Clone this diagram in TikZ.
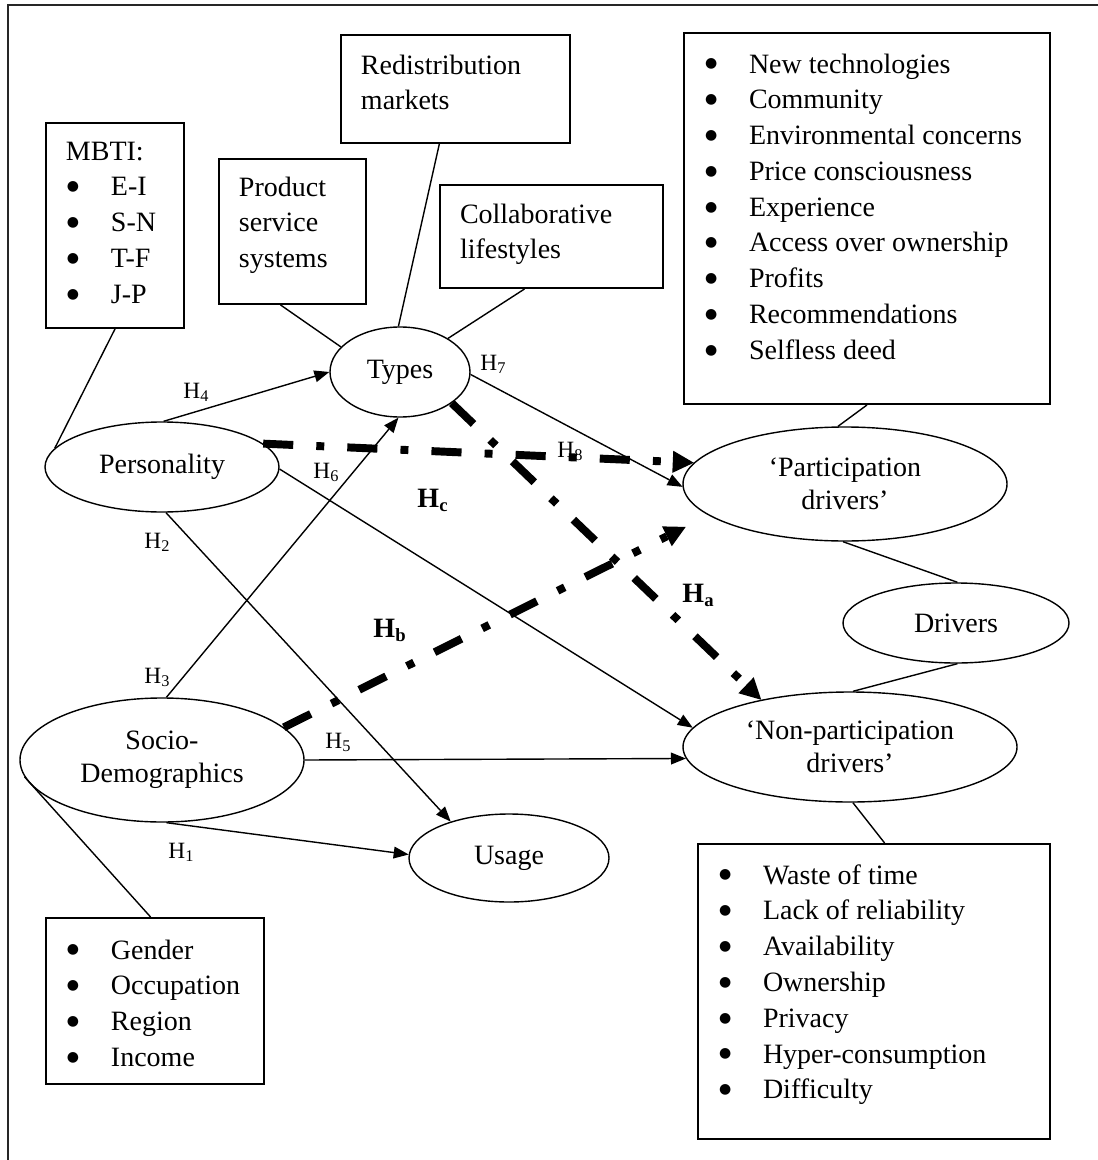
\documentclass[tikz,border=0pt]{standalone}
\usepackage{fontspec}
\setmainfont{Liberation Serif}
\newfontfamily\dotfont{DejaVu Sans}
\usetikzlibrary{shapes.geometric,arrows.meta,calc}
\newlength\pxu
\setlength\pxu{0.4286pt}
\newcommand\bodyfont{\fontsize{12}{15.34}\selectfont}
% framed text block: width, height, top gap, lines
\newcommand\boxbody[4]{\parbox[t][#2\pxu][t]{#1\pxu}{\bodyfont\parindent=0pt\vspace*{#3\pxu}#4}}
\newcommand\bigdot{\raisebox{2.2pt}{\dotfont\fontsize{6}{0}\selectfont ●}}
\newcommand\bitem[1]{\hspace*{21\pxu}\makebox[44\pxu][l]{\bigdot}#1\strut\par}
\newcommand\tline[1]{\hspace*{20\pxu}#1\strut\par}
\tikzset{
  every node/.style={font=\bodyfont},
  box/.style={draw, line width=0.85pt, inner sep=0pt, anchor=north west},
  oval/.style={draw, ellipse, line width=0.6pt, inner sep=0pt, align=center,
               font=\fontsize{12}{14.1}\selectfont},
  link/.style={line width=0.6pt},
  arr/.style={line width=0.6pt, -{Triangle[length=6.4pt,width=5.2pt,line width'=0pt]}},
  hyp/.style={line width=3.4pt, dash pattern=on 12.9pt off 9.9pt on 3.4pt off 9.9pt,
              -{Triangle[length=9pt,width=9.5pt,line width'=0pt]}},
  hlab/.style={font=\fontsize{10}{12}\selectfont, anchor=base west, inner sep=0pt},
  blab/.style={font=\fontsize{12}{14}\selectfont\bfseries, anchor=base west, inner sep=0pt},
  frame/.style={line width=0.8pt, black!85}
}
\begin{document}
\begin{tikzpicture}[x={(0.4286pt,0)}, y={(0,-0.4286pt)}]
\useasboundingbox (0,0) rectangle (1097,1160);
\draw[frame] (1150,5) -- (8,5) -- (8,1200);

% ovals
\node[oval, minimum width=140\pxu, minimum height=90\pxu]  (types)   at (400,372) {Types};
\node[oval, minimum width=234\pxu, minimum height=90\pxu]  (pers)    at (162,467) {Personality};
\node[oval, minimum width=284\pxu, minimum height=124\pxu] (socio)   at (162,760) {Socio-\\Demographics};
\node[oval, minimum width=200\pxu, minimum height=88\pxu]  (usage)   at (509,858) {Usage};
\node[oval, minimum width=324\pxu, minimum height=114\pxu] (part)    at (845,484) {`Participation\\drivers'};
\node[oval, minimum width=226\pxu, minimum height=80\pxu]  (drivers) at (956,623) {Drivers};
\node[oval, minimum width=334\pxu, minimum height=110\pxu] (nonp)    at (850,747) {`Non-participation\\drivers'};

% framed lists
\node[box] (mbti) at (45,122) {\boxbody{138}{205}{12}{\tline{MBTI:}\bitem{E-I}\bitem{S-N}\bitem{T-F}\bitem{J-P}}};
\node[box] (prod) at (218,158) {\boxbody{147}{145}{12}{\tline{Product}\tline{service}\tline{systems}}};
\node[box] (redist) at (340,34) {\boxbody{229}{108}{14}{\tline{Redistribution}\tline{markets}}};
\node[box] (collab) at (439,184) {\boxbody{223}{103}{13}{\tline{Collaborative}\tline{lifestyles}}};
\node[box] (drv) at (683,32) {\boxbody{366}{371}{15}{%
  \bitem{New technologies}\bitem{Community}\bitem{Environmental concerns}%
  \bitem{Price consciousness}\bitem{Experience}\bitem{Access over ownership}%
  \bitem{Profits}\bitem{Recommendations}\bitem{Selfless deed}}};
\node[box] (demo) at (45,917) {\boxbody{218}{166}{16}{\bitem{Gender}\bitem{Occupation}\bitem{Region}\bitem{Income}}};
\node[box] (nbox) at (697,843) {\boxbody{352}{295}{15}{%
  \bitem{Waste of time}\bitem{Lack of reliability}\bitem{Availability}%
  \bitem{Ownership}\bitem{Privacy}\bitem{Hyper-consumption}\bitem{Difficulty}}};

% plain links
\draw[link] (mbti.south) -- (pers.170);
\draw[link] ($(prod.south west)!.42!(prod.south east)$) -- (types.157);
\draw[link] ($(redist.south west)!.43!(redist.south east)$) -- (types.92);
\draw[link] ($(collab.south west)!.38!(collab.south east)$) -- (types.35);
\draw[link] (drv.south) -- (part.97);
\draw[link] (part.-92) -- (drivers.88);
\draw[link] (drivers.-88) -- (nonp.87);
\draw[link] (nonp.-87) -- ($(nbox.north west)!.53!(nbox.north east)$);
\draw[link] (socio.187) -- ($(demo.north west)!.48!(demo.north east)$);

% hypotheses
\draw[arr] (pers.88) -- (types.180);
\draw[arr] (types.-2) -- (part.181);
\draw[arr] (socio.86) -- (types.-92);
\draw[arr] (pers.-85) -- (usage.148);
\draw[arr] (pers.-1) -- (nonp.173);
\draw[arr] (socio.0) -- (nonp.184);
\draw[arr] (socio.-86) -- (usage.178);

\draw[hyp] (pers.13) -- (part.172);
\draw[hyp] (types.-31) -- (nonp.152);
\draw[hyp, shorten >=11pt] (socio.15) -- (part.193);

% labels
\node[hlab] (l1) at (168,858) {H\textsubscript{1}};
\node[hlab] (l2) at (144,548) {H\textsubscript{2}};
\node[hlab] (l3) at (144,683) {H\textsubscript{3}};
\node[hlab] (l4) at (183,398) {H\textsubscript{4}};
\node[hlab] (l5) at (325,748) {H\textsubscript{5}};
\node[hlab] (l6) at (313,478) {H\textsubscript{6}};
\node[hlab] (l7) at (480,370) {H\textsubscript{7}};
\node[hlab] (l8) at (557,457) {H\textsubscript{8}};
\node[blab] (la) at (682,602) {H\textsubscript{a}};
\node[blab] (lb) at (373,637) {H\textsubscript{b}};
\node[blab] (lc) at (417,507) {H\textsubscript{c}};
\end{tikzpicture}
\end{document}
